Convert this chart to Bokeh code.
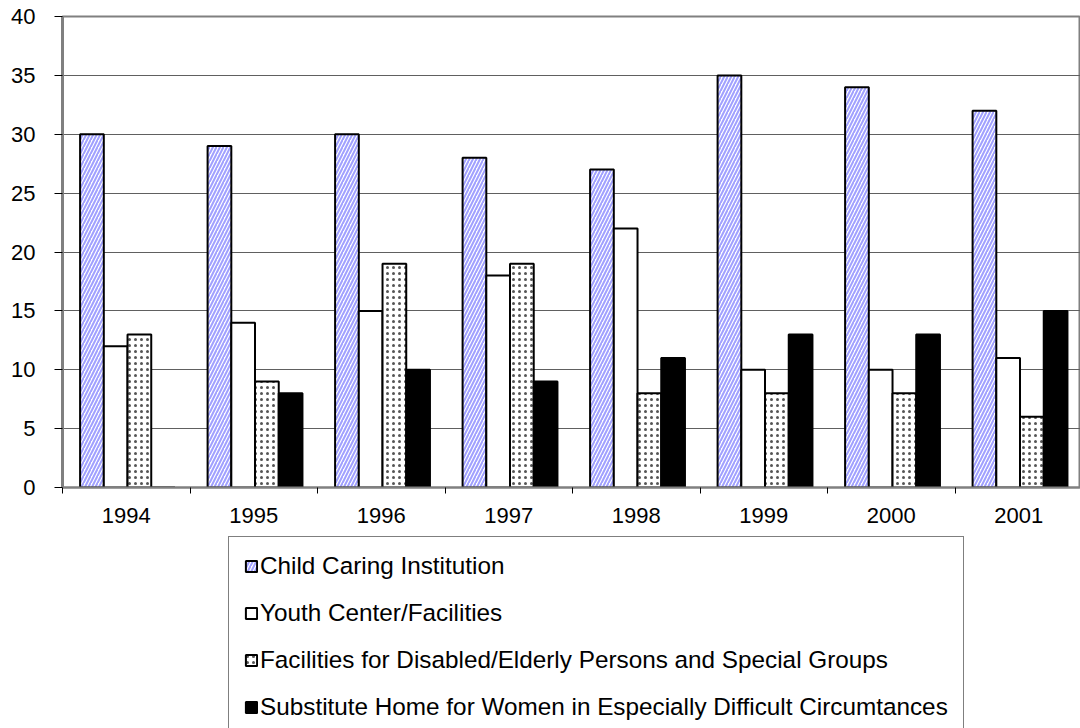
from bokeh.plotting import figure
from bokeh.models import ColumnDataSource, Range1d, FixedTicker, Legend, LegendItem
from bokeh.layouts import column
from bokeh.transform import dodge
from bokeh.embed import file_html
from bokeh.resources import INLINE

years = ["1994", "1995", "1996", "1997", "1998", "1999", "2000", "2001"]
child_caring = [30, 29, 30, 28, 27, 35, 34, 32]
youth_center = [12, 14, 15, 18, 22, 10, 10, 11]
facilities_disabled = [13, 9, 19, 19, 8, 8, 8, 6]
substitute_home = [0, 8, 10, 9, 11, 13, 13, 15]
series_names = [
    "Child Caring Institution",
    "Youth Center/Facilities",
    "Facilities for Disabled/Elderly Persons and Special Groups",
    "Substitute Home for Women in Especially Difficult Circumtances",
]

FONT = "Liberation Sans"
xs = list(range(len(years)))
bw = 0.186

styles = [
    dict(fill_color="white", hatch_pattern="right_diagonal_line", hatch_color="#a0a0ff",
         hatch_scale=7, hatch_weight=2, line_color="black", line_width=2),
    dict(fill_color="white", line_color="black", line_width=2),
    dict(fill_color="white", hatch_pattern="dot", hatch_color="#555555",
         hatch_scale=6, hatch_weight=2, line_color="black", line_width=2),
    dict(fill_color="black", line_color="black", line_width=2),
]

p = figure(width=1080, height=534, output_backend="svg", toolbar_location=None,
           x_range=Range1d(-0.5, 7.5 - 2 / 127.5), y_range=Range1d(0, 40),
           min_border_left=62, min_border_right=0, min_border_top=16, min_border_bottom=47)

src = ColumnDataSource(dict(x=xs, a=child_caring, b=youth_center, c=facilities_disabled, d=substitute_home))
cols = ["a", "b", "c", "d"]
offsets = [-1.5, -0.5, 0.5, 1.5]
for col, off, st in zip(cols, offsets, styles):
    p.vbar(x=dodge("x", off * bw + 0.01), top=col, width=bw, source=src, **st)

# axes
p.xaxis.ticker = FixedTicker(ticks=xs, minor_ticks=[i - 0.5 for i in range(len(years) + 1)])
p.xaxis.major_label_overrides = {i: y for i, y in enumerate(years)}
p.xaxis.major_tick_line_color = None
p.xaxis.major_tick_out = 0
p.xaxis.minor_tick_out = 6
p.xaxis.minor_tick_in = 0
p.xaxis.minor_tick_line_color = "black"
p.xaxis.axis_line_color = "#808080"
p.xaxis.axis_line_width = 2
p.xaxis.major_label_standoff = 14

p.yaxis.ticker = FixedTicker(ticks=list(range(0, 41, 5)))
p.yaxis.major_tick_out = 8
p.yaxis.major_tick_in = 0
p.yaxis.minor_tick_line_color = None
p.yaxis.axis_line_color = "#808080"
p.yaxis.axis_line_width = 3
p.yaxis.major_label_standoff = 19

for ax in (p.xaxis, p.yaxis):
    ax.major_label_text_font = FONT
    ax.major_label_text_font_size = "22px"
    ax.major_label_text_color = "black"

p.xgrid.grid_line_color = None
p.ygrid.grid_line_color = "#606060"
p.ygrid.grid_line_width = 1
p.ygrid.ticker = FixedTicker(ticks=list(range(0, 41, 5)))
p.outline_line_color = "#808080"
p.outline_line_width = 2

# legend figure
p2 = figure(width=1080, height=194, output_backend="svg", toolbar_location=None,
            x_range=Range1d(0, 1), y_range=Range1d(0, 1), min_border=0)
p2.axis.visible = False
p2.grid.visible = False
p2.outline_line_color = None
dummy = ColumnDataSource(dict(x=[10], top=[0]))
legend_renderers = [p2.vbar(x="x", top="top", width=0.1, source=dummy, **st) for st in styles]

legend = Legend(items=[LegendItem(label=n, renderers=[r], index=0) for n, r in zip(series_names, legend_renderers)],
                location=(166, -9), orientation="vertical",
                label_text_font=FONT, label_text_font_size="24.3px", label_text_color="black",
                glyph_width=14, glyph_height=14, label_height=28, spacing=19, padding=15,
                margin=0, label_standoff=2,
                border_line_color="black", border_line_width=1, background_fill_color="white",
                background_fill_alpha=1)
p2.add_layout(legend, "center")

layout = column(p, p2, spacing=0)
open("out.html", "w").write(file_html(layout, INLINE))
